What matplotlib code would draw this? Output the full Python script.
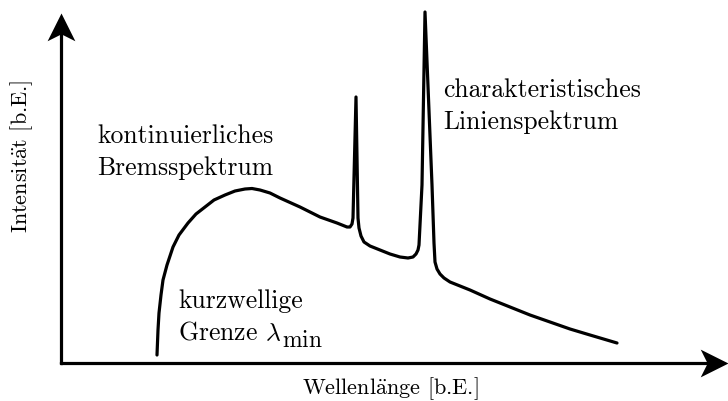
import matplotlib
matplotlib.use("Agg")
import matplotlib.pyplot as plt
from matplotlib.path import Path
from matplotlib.markers import MarkerStyle
from matplotlib.transforms import Affine2D

plt.rcParams['font.family'] = ['cmr10', 'DejaVu Serif']
plt.rcParams['mathtext.fontset'] = 'cm'
plt.rcParams['axes.unicode_minus'] = False

# schematic x-ray spectrum (arbitrary units, origin at axis corner)
wavelength = [96, 97, 98, 100, 102, 106, 112, 118, 127, 135, 144, 153, 164,
              174, 184, 191, 199, 209, 219, 239, 259, 276, 286, 289, 291,
              292, 295, 297, 298, 300, 303, 309, 319, 329, 339, 347, 352,
              355, 357, 358, 361, 364, 371, 373, 374, 376, 379, 383, 389,
              399, 409, 429, 449, 469, 489, 509, 529, 556]
intensity = [8, 33, 50, 68, 83, 98, 116, 128, 140, 149, 156, 163, 168,
             172, 174, 174.5, 173, 170, 165, 156, 146, 140, 136, 136, 139,
             145, 266, 145, 135, 127, 121, 117, 113, 109, 106, 105, 106,
             109, 113, 118, 178, 351, 178, 120, 101, 94, 89, 85, 81,
             77, 73, 64, 56, 48, 41, 34, 28, 20]

x_end = 667   # end of wavelength axis
y_end = 350   # end of intensity axis

fig = plt.figure(figsize=(7.28, 4.01), dpi=100)
ax = fig.add_axes([0, 0, 1, 1])
ax.set_xlim(-61, 667)
ax.set_ylim(-38, 363)
ax.axis('off')

# stealth like arrow head
head = Path([(0, 0), (-28, 14), (-21, 0), (-28, -14), (0, 0)],
            [Path.MOVETO, Path.LINETO, Path.LINETO, Path.LINETO, Path.CLOSEPOLY])
head_x = MarkerStyle(head)
head_y = MarkerStyle(head, transform=Affine2D().rotate_deg(90))

ax.plot([0, x_end - 20], [0, 0], color='black', lw=2.3, solid_capstyle='butt')
ax.plot([0, 0], [0, y_end - 20], color='black', lw=2.3, solid_capstyle='butt')
ax.plot([0], [0], marker='s', ms=1.6, color='black')
ax.plot([x_end], [0], marker=head_x, ms=40, color='black', mew=0)
ax.plot([0], [y_end], marker=head_y, ms=40, color='black', mew=0)

ax.plot(wavelength, intensity, color='black', lw=2.3,
        solid_joinstyle='round', solid_capstyle='round')

fs = 18.5
ax.text(36, 220, 'kontinuierliches', fontsize=fs, ha='left', va='baseline')
ax.text(36, 188, 'Bremsspektrum', fontsize=fs, ha='left', va='baseline')
ax.text(382, 266, 'charakteristisches', fontsize=fs, ha='left', va='baseline')
ax.text(382, 234, 'Linienspektrum', fontsize=fs, ha='left', va='baseline')
ax.text(117, 55, 'kurzwellige', fontsize=fs, ha='left', va='baseline')
grenze = ax.text(117, 23, r'Grenze $\lambda$', fontsize=fs, ha='left', va='baseline')
ax.annotate(r'$\mathrm{min}$', xy=(1, 0), xycoords=grenze,
            xytext=(0.5, -5), textcoords='offset points',
            fontsize=17, ha='left', va='bottom')

ax.text(241, -31, r'Wellenl$\ddot{\mathrm{a}}$nge [b.E.]', fontsize=16,
        ha='left', va='baseline')
ax.text(-39, 207, r'Intensit$\ddot{\mathrm{a}}$t [b.E.]', fontsize=16,
        ha='center', va='center', rotation=90)

fig.savefig('out.png', dpi=100)
